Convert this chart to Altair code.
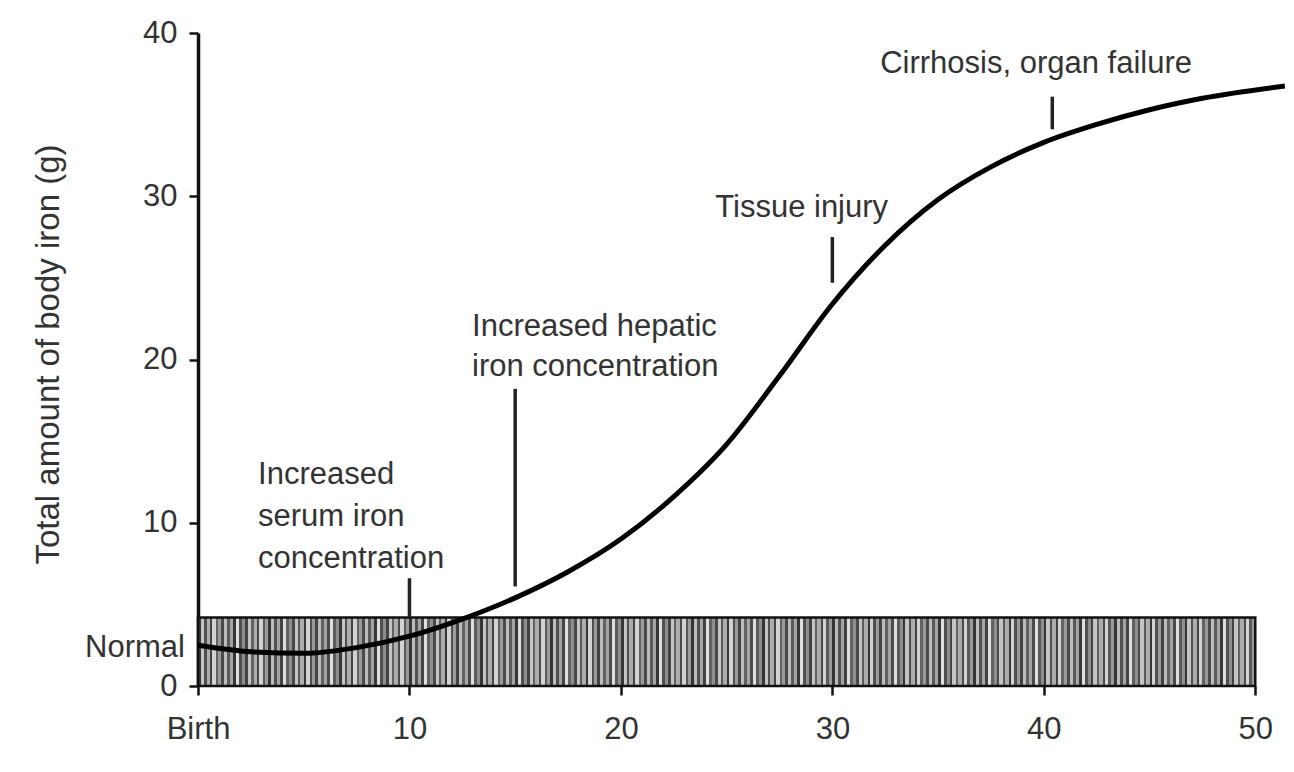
import altair as alt
import pandas as pd
import numpy as np

# ---- data ----
age = [0, 2.5, 5, 7.5, 10, 12.5, 15, 17.5, 20, 22.5, 25, 27.5, 30, 32.5, 35, 37.5, 40, 42.5, 45, 47.5, 51.4]
iron = [2.5, 2.1, 2.0, 2.35, 3.05, 4.1, 5.4, 7.0, 9.0, 11.6, 14.8, 19.0, 23.4, 27.0, 29.8, 31.8, 33.3, 34.4, 35.3, 36.0, 36.75]

normal_lo, normal_hi = 0, 4.2
normal_start, normal_end = 0, 50

marker_x = [10, 15, 30, 40.4]
marker_lo = [4.2, 6.1, 24.7, 34.1]
marker_hi = [6.6, 18.2, 27.5, 36.1]

ann_text = [
    "Increased\nserum iron\nconcentration",
    "Increased hepatic\niron concentration",
    "Tissue injury",
    "Cirrhosis, organ failure",
]
ann_x = [2.84, 12.96, 24.46, 32.26]
ann_y = [12.39, 21.47, 28.71, 37.55]
ann_lh = [42, 40, 40, 40]

x_ticks = [0, 10, 20, 30, 40, 50]
y_ticks = [0, 10, 20, 30, 40]

FONT = "Liberation Sans"
TXT = "#333333"
FS = 31

curve_df = pd.DataFrame({"age": age, "iron": iron})
band_df = pd.DataFrame({"x": [normal_start], "x2": [normal_end], "y": [normal_lo], "y2": [normal_hi]})
mark_df = pd.DataFrame({"x": marker_x, "y": marker_lo, "y2": marker_hi})

# ---- striped texture for the "Normal" band (style only) ----
darks = ["#363636", "#505050", "#434343", "#626262", "#4a4a4a", "#5a5a5a"]
lights = ["#c4c4c4", "#9a9a9a", "#dedede", "#acacac", "#bcbcbc", "#8e8e8e", "#d2d2d2", "#a4a4a4"]
n_pairs = 180
stops = []
for i in range(n_pairs):
    a = i / n_pairs
    b = (i + 0.45) / n_pairs
    c = (i + 1) / n_pairs
    d = darks[i % len(darks)]
    l = lights[(i * 3) % len(lights)]
    stops += [alt.GradientStop(offset=a, color=d), alt.GradientStop(offset=b, color=d),
              alt.GradientStop(offset=b, color=l), alt.GradientStop(offset=c, color=l)]
stripes = alt.LinearGradient(gradient="linear", stops=stops, x1=0, x2=1, y1=0, y2=0)

xs = alt.Scale(domain=[0, 51.5], nice=False, zero=False)
ys = alt.Scale(domain=[0, 40], nice=False)

x_axis = alt.Axis(values=x_ticks, labelExpr="datum.value == 0 ? 'Birth' : datum.label",
                  domain=False, grid=False, ticks=True, tickSize=9, tickWidth=2.5, tickColor="#111",
                  labelFont=FONT, labelFontSize=FS, labelColor=TXT, labelPadding=19,
                  title=None, labelFlush=False)
y_axis = alt.Axis(values=y_ticks, domain=True, domainColor="#111", domainWidth=3.5,
                  grid=False, ticks=True, tickSize=9, tickWidth=2.5, tickColor="#111",
                  labelFont=FONT, labelFontSize=FS, labelColor=TXT, labelPadding=12,
                  title="Total amount of body iron (g)", titleFont=FONT, titleFontSize=33,
                  titleFontWeight="normal", titleColor=TXT, titleX=-150, titleY=321,
                  titleBaseline="middle", titleAngle=270, labelFlush=False)

band = alt.Chart(band_df).mark_rect(fill=stripes, stroke="#111", strokeWidth=2.5).encode(
    x=alt.X("x:Q", scale=xs, axis=x_axis), x2="x2:Q",
    y=alt.Y("y:Q", scale=ys, axis=y_axis), y2="y2:Q",
)

curve = alt.Chart(curve_df).mark_line(color="#000", strokeWidth=5, interpolate="monotone").encode(
    x=alt.X("age:Q", scale=xs), y=alt.Y("iron:Q", scale=ys)
)

markers = alt.Chart(mark_df).mark_rule(color="#222", strokeWidth=3.5).encode(
    x=alt.X("x:Q", scale=xs), y=alt.Y("y:Q", scale=ys), y2="y2:Q"
)

layers = [band, curve, markers]
for t, x, y, lh in zip(ann_text, ann_x, ann_y, ann_lh):
    df = pd.DataFrame({"x": [x], "y": [y], "t": [t]})
    layers.append(
        alt.Chart(df).mark_text(align="left", baseline="alphabetic", font=FONT, fontSize=FS,
                                color=TXT, lineBreak="\n", lineHeight=lh).encode(
            x=alt.X("x:Q", scale=xs), y=alt.Y("y:Q", scale=ys), text="t:N")
    )

normal_df = pd.DataFrame({"x": [0], "y": [2.33], "t": ["Normal"]})
layers.append(
    alt.Chart(normal_df).mark_text(align="right", baseline="middle", font=FONT, fontSize=FS,
                                   color=TXT, dx=-13).encode(
        x=alt.X("x:Q", scale=xs), y=alt.Y("y:Q", scale=ys), text="t:N")
)

chart = alt.layer(*layers).properties(
    width=1089, height=653,
    autosize=alt.AutoSizeParams(type="none"),
    padding={"left": 198, "top": 33, "right": 7, "bottom": 86},
    background="white",
).configure_view(stroke=None)

chart.save("out.html", embed_options={"renderer": "svg", "actions": False})
